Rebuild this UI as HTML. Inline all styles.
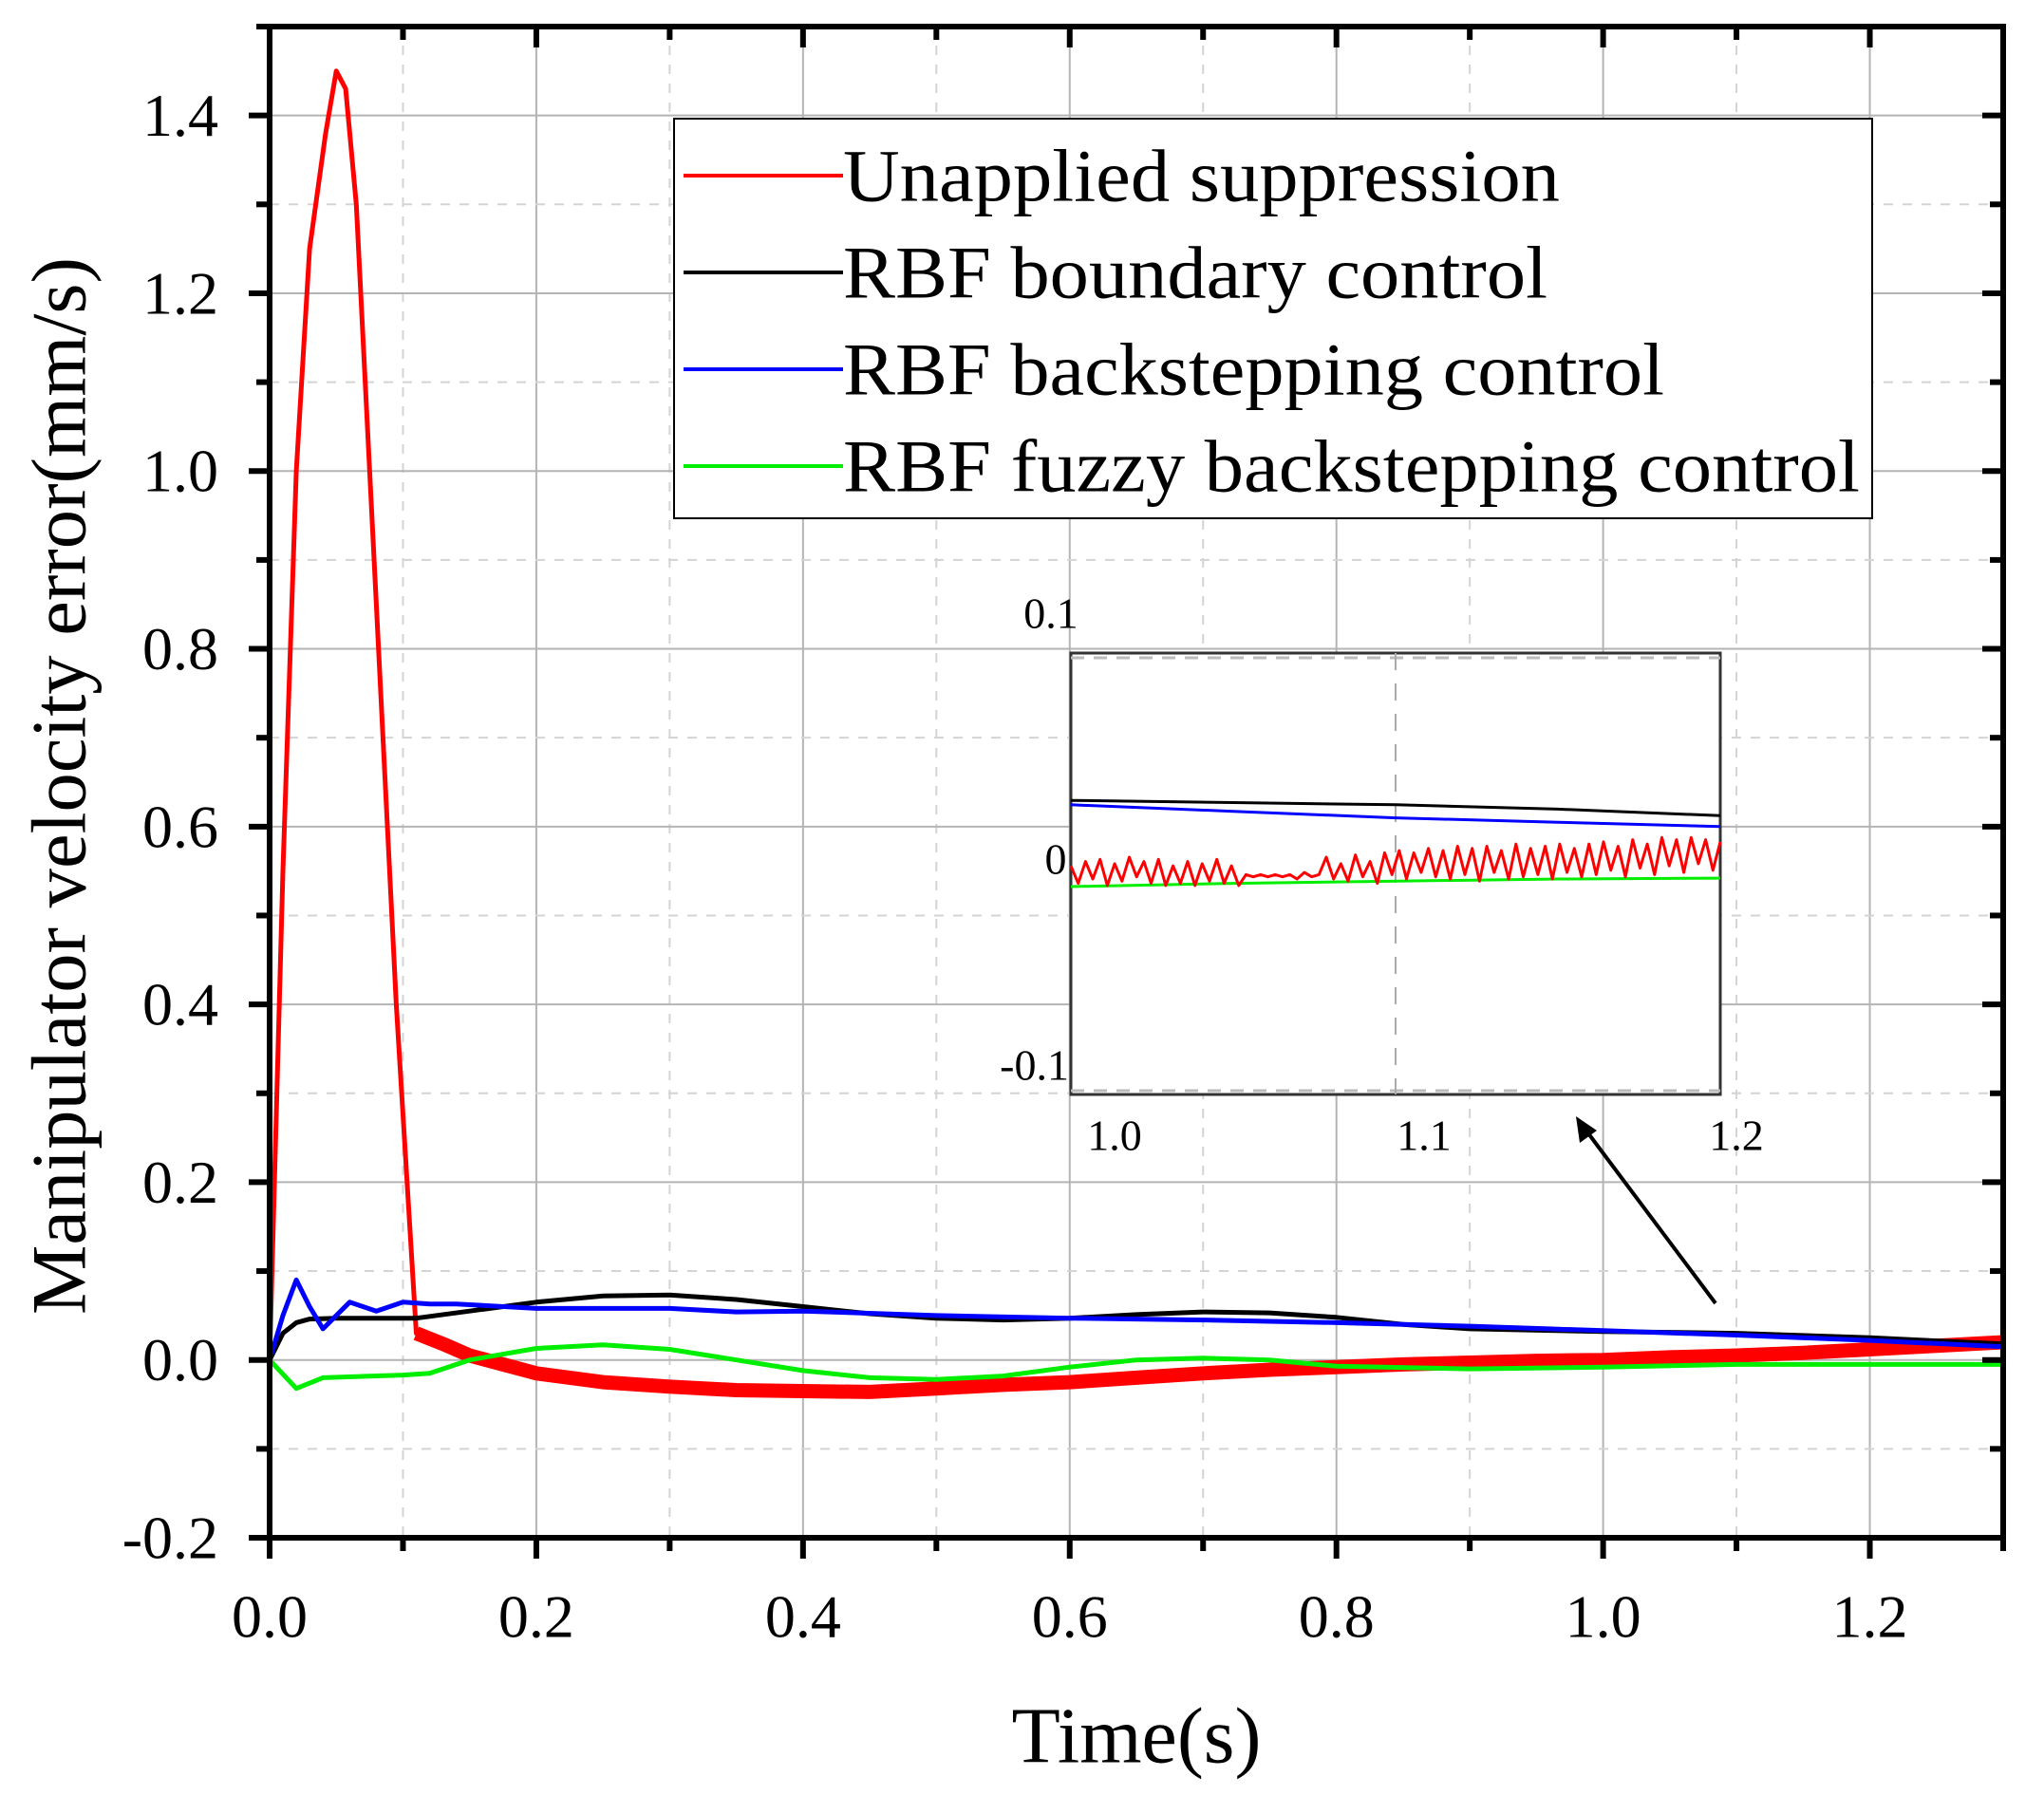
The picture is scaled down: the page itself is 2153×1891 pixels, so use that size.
<!DOCTYPE html>
<html><head><meta charset="utf-8"><style>
html,body{margin:0;padding:0;background:#fff;}
svg{display:block;font-family:"Liberation Serif",serif;}
</style></head><body>
<svg id="chart" width="2153" height="1891" viewBox="0 0 2153 1891">
<g id="grid"></g>
<g id="series"></g>
<g id="axes"></g>
<text x="62" y="828" font-size="82" text-anchor="middle" dominant-baseline="central" transform="rotate(-90 62 828)" textLength="1114" lengthAdjust="spacingAndGlyphs">Manipulator velocity error(mm/s)</text>
<text x="1197" y="1829" font-size="84" text-anchor="middle" dominant-baseline="central">Time(s)</text>
<g>
<rect x="710" y="125" width="1262" height="421" fill="#fff" stroke="#000" stroke-width="2"/>
<line x1="720" y1="185" x2="888" y2="185" stroke="#ff0000" stroke-width="4"/>
<text x="888" y="185" font-size="78" dominant-baseline="central" textLength="755" lengthAdjust="spacingAndGlyphs">Unapplied suppression</text>
<line x1="720" y1="287" x2="888" y2="287" stroke="#000" stroke-width="4"/>
<text x="888" y="287" font-size="78" dominant-baseline="central" textLength="742" lengthAdjust="spacingAndGlyphs">RBF boundary control</text>
<line x1="720" y1="389" x2="888" y2="389" stroke="#0000ff" stroke-width="4"/>
<text x="888" y="389" font-size="78" dominant-baseline="central" textLength="865" lengthAdjust="spacingAndGlyphs">RBF backstepping control</text>
<line x1="720" y1="491" x2="888" y2="491" stroke="#00ee00" stroke-width="4"/>
<text x="888" y="491" font-size="78" dominant-baseline="central" textLength="1071" lengthAdjust="spacingAndGlyphs">RBF fuzzy backstepping control</text>
</g>
<g id="inset"></g>
<g>
<line x1="1807" y1="1373" x2="1670" y2="1190" stroke="#000" stroke-width="4"/>
<polygon points="1660,1176 1664,1204 1682,1191" fill="#000"/>
</g>
</svg>
<script>
// ---- main chart data ----
const redT = [0,0.01,0.02,0.03,0.042,0.05,0.057,0.065,0.08,0.095,0.11,0.13,0.15,0.2,0.25,0.3,0.35,0.4,0.45,0.5,0.55,0.6,0.65,0.7,0.75,0.8,0.85,0.9,0.95,1.0,1.05,1.1,1.15,1.2,1.25,1.3];
const redV = [0,0.55,1.0,1.25,1.38,1.45,1.43,1.3,0.85,0.4,0.03,0.018,0.005,-0.015,-0.025,-0.03,-0.034,-0.035,-0.036,-0.032,-0.028,-0.025,-0.02,-0.015,-0.011,-0.008,-0.005,-0.003,-0.001,0.0,0.003,0.005,0.008,0.012,0.016,0.02];
const blackT = [0,0.01,0.02,0.03,0.05,0.08,0.11,0.15,0.2,0.25,0.3,0.35,0.4,0.45,0.5,0.55,0.6,0.65,0.7,0.75,0.8,0.85,0.9,1.0,1.1,1.2,1.3];
const blackV = [0,0.03,0.042,0.046,0.047,0.047,0.047,0.055,0.065,0.072,0.073,0.068,0.06,0.052,0.047,0.045,0.047,0.051,0.054,0.053,0.048,0.04,0.035,0.032,0.03,0.025,0.018];
const blueT = [0,0.01,0.02,0.03,0.04,0.05,0.06,0.07,0.08,0.09,0.1,0.12,0.14,0.2,0.3,0.35,0.4,0.5,0.6,0.7,0.8,0.9,1.0,1.1,1.2,1.3];
const blueV = [0,0.05,0.09,0.06,0.035,0.05,0.065,0.06,0.055,0.06,0.065,0.063,0.063,0.058,0.058,0.054,0.055,0.05,0.047,0.045,0.042,0.038,0.033,0.028,0.022,0.015];
const greenT = [0,0.02,0.04,0.1,0.12,0.15,0.2,0.25,0.3,0.35,0.4,0.45,0.5,0.55,0.6,0.65,0.7,0.75,0.8,0.9,1.0,1.1,1.2,1.3];
const greenV = [0,-0.032,-0.02,-0.017,-0.015,0.0,0.013,0.017,0.012,0.0,-0.012,-0.02,-0.022,-0.018,-0.008,0.0,0.002,0.0,-0.007,-0.01,-0.008,-0.005,-0.005,-0.005];
const xTicks = [0,0.2,0.4,0.6,0.8,1.0,1.2];
const xTickLabels = ["0.0","0.2","0.4","0.6","0.8","1.0","1.2"];
const yTicks = [-0.2,0,0.2,0.4,0.6,0.8,1.0,1.2,1.4];
const yTickLabels = ["-0.2","0.0","0.2","0.4","0.6","0.8","1.0","1.2","1.4"];
// ---- inset data ----
const insetBlackT = [1.0,1.05,1.1,1.15,1.2];
const insetBlackV = [0.026,0.025,0.024,0.022,0.019];
const insetBlueT = [1.0,1.05,1.1,1.15,1.2];
const insetBlueV = [0.024,0.021,0.018,0.016,0.014];
const insetGreenT = [1.0,1.05,1.1,1.15,1.2];
const insetGreenV = [-0.0135,-0.012,-0.011,-0.010,-0.0096];
const insetRedV = [-4,-12,-2,-10,-1,-13,-3,-11,0,-9,-2,-12,-1,-13,-4,-12,-2,-13,-3,-11,-1,-12,-4,-13,-8,-9,-8,-9,-8,-9,-8,-10,-7,-9,-8,0,-10,-3,-11,1,-9,-2,-12,2,-8,3,-10,2,-7,4,-9,3,-10,5,-8,4,-11,5,-7,3,-10,6,-9,4,-8,5,-10,6,-7,4,-9,6,-8,7,-6,5,-9,8,-5,6,-8,9,-4,8,-7,9,-3,8,-6,7];
const insetXLabels = ["1.0","1.1","1.2"];

const NS = "http://www.w3.org/2000/svg";
const X0=284, X1=2110, Y0=1620, Y1=28;
const xMin=0, xMax=1.3, yMin=-0.2, yMax=1.5;
const sx = v => X0 + (v-xMin)/(xMax-xMin)*(X1-X0);
const sy = v => Y0 - (v-yMin)/(yMax-yMin)*(Y0-Y1);
function mk(tag, attrs, parent){const e=document.createElementNS(NS,tag);for(const k in attrs)e.setAttribute(k,attrs[k]);parent.appendChild(e);return e;}
const grid=document.getElementById('grid'), series=document.getElementById('series'), axes=document.getElementById('axes');

for(let i=1;i<13;i++){const v=i*0.1;const x=sx(v);const major=i%2===0;
 const l=mk('line',{x1:x,y1:Y1,x2:x,y2:Y0,stroke:major?'#b4b4b4':'#d4d4d4','stroke-width':2,'stroke-dasharray':major?'none':'10 10'},grid);
 
 }
for(let i=-1;i<15;i++){const v=i*0.1;const y=sy(v);const major=(i%2===0);
 const l=mk('line',{x1:X0,y1:y,x2:X1,y2:y,stroke:major?'#b4b4b4':'#d4d4d4','stroke-width':2,'stroke-dasharray':major?'none':'10 10'},grid);
 
 }

function path(T,V,fx,fy,color,w,name,parent){
 let d=T.map((t,i)=>(i?'L':'M')+fx(t).toFixed(1)+' '+fy(V[i]).toFixed(1)).join(' ');
 const p=mk('path',{d:d,fill:'none',stroke:color,'stroke-width':w,'stroke-linejoin':'round'},parent);
 
 
 return p;}
path(redT,redV,sx,sy,'#ff0000',5,'series-unapplied-suppression',series);
const nT=[],nV=[];redT.forEach((t,i)=>{if(t>=0.11){nT.push(t);nV.push(redV[i]);}});
path(nT,nV,sx,sy,'#ff0000',15,'series-unapplied-noise-band',series);
path(blackT,blackV,sx,sy,'#000000',5,'series-rbf-boundary',series);
path(blueT,blueV,sx,sy,'#0000ff',5,'series-rbf-backstepping',series);
path(greenT,greenV,sx,sy,'#00ee00',5,'series-rbf-fuzzy-backstepping',series);

const frame=mk('rect',{x:X0,y:Y1,width:X1-X0,height:Y0-Y1,fill:'none',stroke:'#000','stroke-width':6},axes);


for(let i=0;i<=13;i++){const x=sx(i*0.1);const major=i%2===0;const L=major?22:14;
 mk('line',{x1:x,y1:Y0,x2:x,y2:Y0+L,stroke:'#000','stroke-width':6},axes);
 mk('line',{x1:x,y1:Y1,x2:x,y2:Y1+L,stroke:'#000','stroke-width':6},axes);}
for(let i=-2;i<=15;i++){const y=sy(i*0.1);const major=i%2===0;const L=major?22:14;
 mk('line',{x1:X0,y1:y,x2:X0-L,y2:y,stroke:'#000','stroke-width':6},axes);
 mk('line',{x1:X1,y1:y,x2:X1-L,y2:y,stroke:'#000','stroke-width':6},axes);}
xTicks.forEach((v,i)=>{const t=mk('text',{x:sx(v),y:1703,'font-size':64,'text-anchor':'middle','dominant-baseline':'central'},axes);t.textContent=xTickLabels[i];
 
 });
yTicks.forEach((v,i)=>{const t=mk('text',{x:230,y:sy(v),'font-size':64,'text-anchor':'end','dominant-baseline':'central'},axes);t.textContent=yTickLabels[i];
 
 });

// inset
const inset=document.getElementById('inset');
const IX0=1128, IX1=1812, IYT=688, IYB=1153;
const ix = v => IX0 + (v-1.0)/0.2*(IX1-IX0);
const iy = v => 903 - v/0.1*230;
const ibg=mk('rect',{x:IX0,y:IYT,width:IX1-IX0,height:IYB-IYT,fill:'#fff',stroke:'#333','stroke-width':3},inset);


mk('line',{x1:IX0,y1:IYT+5,x2:IX1,y2:IYT+5,stroke:'#bbb','stroke-width':3,'stroke-dasharray':'14 10'},inset);
mk('line',{x1:IX0,y1:IYB-4,x2:IX1,y2:IYB-4,stroke:'#bbb','stroke-width':3,'stroke-dasharray':'14 10'},inset);
mk('line',{x1:ix(1.1),y1:IYT,x2:ix(1.1),y2:IYB,stroke:'#aaa','stroke-width':2,'stroke-dasharray':'18 14'},inset);
path(insetBlackT,insetBlackV,ix,iy,'#000',3,'inset-series-rbf-boundary',inset);
path(insetBlueT,insetBlueV,ix,iy,'#0000ff',3,'inset-series-rbf-backstepping',inset);
path(insetGreenT,insetGreenV,ix,iy,'#00ee00',3,'inset-series-rbf-fuzzy',inset);
const irT=insetRedV.map((v,i)=>1.0+0.2*i/(insetRedV.length-1));
const irV=insetRedV.map(v=>v/1000);
path(irT,irV,ix,iy,'#ff0000',3,'inset-series-unapplied',inset);
[['0.1',1107,646,'middle'],['0',1112,905,'middle'],['-0.1',1126,1122,'end']].forEach(a=>{
 const t=mk('text',{x:a[1],y:a[2],'font-size':46,'text-anchor':a[3],'dominant-baseline':'central'},inset);t.textContent=a[0];
 
 });
[1174,1500,1829].forEach((x,i)=>{const t=mk('text',{x:x,y:1196,'font-size':46,'text-anchor':'middle','dominant-baseline':'central'},inset);t.textContent=insetXLabels[i];
 
 });
</script>
</body></html>
